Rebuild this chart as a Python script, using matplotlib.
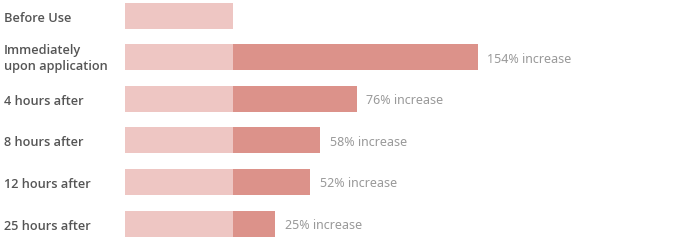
import matplotlib
import matplotlib.pyplot as plt

matplotlib.use('Agg')

# row labels, top to bottom
stages = ['Before Use', 'Immediately\nupon application', '4 hours after',
          '8 hours after', '12 hours after', '25 hours after']
# baseline bar (same for every row), in bar units
base_len = [100, 100, 100, 100, 100, 100]
# extra length drawn after the baseline
gain_len = [0, 226.6, 114.5, 80.6, 71.3, 38.9]
gain_text = ['', '154% increase', '76% increase', '58% increase',
             '52% increase', '25% increase']

BASE_COLOR = '#eec6c3'
GAIN_COLOR = '#dc928a'
LABEL_COLOR = '#555555'
VALUE_COLOR = '#999999'

plt.rcParams['font.family'] = ['Noto Sans', 'DejaVu Sans']

W, H = 700, 240
fig = plt.figure(figsize=(W / 100, H / 100), dpi=100)

px_per_unit = 1.08
row_px = 41.6
first_px = 15.5
left_px = 125
ax = fig.add_axes([left_px / W, 0, (W - left_px) / W, 1])
ax.set_xlim(0, (W - left_px) / px_per_unit)
ax.set_ylim((H - first_px) / row_px, -first_px / row_px)
ax.axis('off')

ys = list(range(len(stages)))
bar_h = 26 / row_px
ax.barh(ys, base_len, height=bar_h, color=BASE_COLOR, linewidth=0)
ax.barh(ys, gain_len, left=base_len, height=bar_h, color=GAIN_COLOR, linewidth=0)

# text sits a couple of pixels below the bar centre
nudge = 2 / row_px
for y, b, g, txt in zip(ys, base_len, gain_len, gain_text):
    if txt:
        ax.text(b + g + 9, y + nudge, txt, va='center', ha='left',
                fontsize=9, color=VALUE_COLOR)

for y, name in zip(ys, stages):
    shift = 1.0 if '\n' in name else 2.5
    fig.text(4 / W, 1 - (first_px + y * row_px + shift) / H, name, ha='left', va='center',
             fontsize=9.2, fontweight='semibold', family=['Open Sans', 'DejaVu Sans'],
             color=LABEL_COLOR, linespacing=1.3)

fig.savefig('out.png', dpi=100, facecolor='white')
